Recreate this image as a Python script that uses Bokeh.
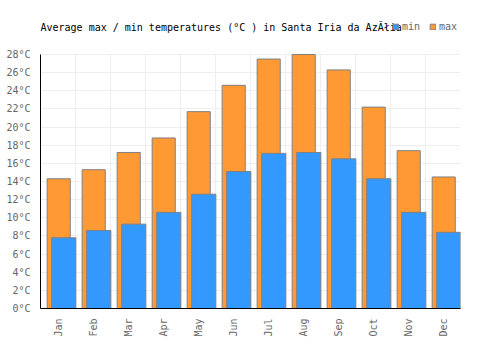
from bokeh.plotting import figure
from bokeh.models import ColumnDataSource, FactorRange, FixedTicker, Legend, LegendItem, Label
from bokeh.transform import dodge
from bokeh.embed import file_html
from bokeh.resources import INLINE
import math

months = ["Jan", "Feb", "Mar", "Apr", "May", "Jun", "Jul", "Aug", "Sep", "Oct", "Nov", "Dec"]
max_temp = [14.3, 15.3, 17.2, 18.8, 21.7, 24.6, 27.5, 28.0, 26.3, 22.2, 17.4, 14.5]
min_temp = [7.8, 8.6, 9.3, 10.6, 12.6, 15.1, 17.1, 17.2, 16.5, 14.3, 10.6, 8.4]
y_ticks = list(range(0, 29, 2))
title_text = "Average max / min temperatures (°C ) in Santa Iria da AzĂłia"

src = ColumnDataSource(dict(month=months, tmax=max_temp, tmin=min_temp))

FONT = "DejaVu Sans Mono"

# frame spans from y=15 to y=308 px; the 0..28 scale occupies y=54..308
TOP_BORDER = 15
Y_END = 28 * (350 - TOP_BORDER - 42) / 254.0

p = figure(width=500, height=350, x_range=FactorRange(*months, range_padding=0),
           y_range=(0, Y_END), output_backend="svg", toolbar_location=None,
           min_border_left=40, min_border_right=40, min_border_top=TOP_BORDER,
           min_border_bottom=42)
p.x_range.factor_padding = 0
p.title = None

r_max = p.vbar(x=dodge("month", 0.02, range=p.x_range), top="tmax", width=0.66, source=src,
               fill_color="#FF9933", line_color="#808080", line_width=1)
r_min = p.vbar(x=dodge("month", 0.165, range=p.x_range), top="tmin", width=0.69, source=src,
               fill_color="#3399FF", line_color="#808080", line_width=1)

p.outline_line_color = None
p.background_fill_color = "white"

p.yaxis.ticker = FixedTicker(ticks=y_ticks)
p.yaxis.bounds = (0, 28)
p.yaxis.major_label_overrides = {t: f"{t}°C" for t in y_ticks}
for ax in (p.xaxis[0], p.yaxis[0]):
    ax.major_tick_line_color = None
    ax.minor_tick_line_color = None
    ax.axis_line_color = "#000000"
    ax.axis_line_width = 1
    ax.major_label_text_font = FONT
    ax.major_label_text_font_size = "10px"
    ax.major_label_text_color = "#666666"
    ax.major_label_standoff = 4
p.xaxis.major_label_orientation = math.pi / 2
p.xaxis.group_text_font_size = "0px"

p.ygrid.ticker = FixedTicker(ticks=y_ticks)
p.ygrid.grid_line_color = "#eeeeee"
p.xgrid.ticker = FixedTicker(ticks=list(range(0, 13)))
p.xgrid.grid_line_color = "#eeeeee"
p.xgrid.cross_bounds = (0, 28)

title = Label(x=0, y=31.0, text=title_text, text_font=FONT, text_font_size="10px",
              text_color="#000000", text_baseline="middle", text_align="left")
p.add_layout(title)

legend = Legend(items=[LegendItem(label="min", renderers=[r_min]),
                       LegendItem(label="max", renderers=[r_max])],
                orientation="horizontal", location=(352, 276),
                label_text_font=FONT, label_text_font_size="10px", label_text_color="#666666",
                glyph_width=7, glyph_height=7, label_standoff=3, spacing=7,
                label_height=10, padding=0, margin=0, border_line_color=None,
                background_fill_alpha=0)
p.add_layout(legend, "center")

open("out.html", "w").write(file_html(p, INLINE))
